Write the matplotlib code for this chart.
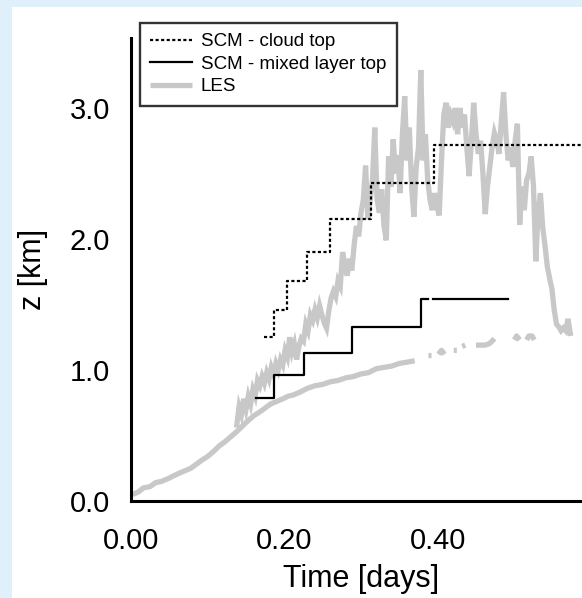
import matplotlib.pyplot as plt
import matplotlib.patches as mpatches
import numpy as np

plt.rcParams['font.family'] = ['Liberation Sans', 'DejaVu Sans']

# SCM - cloud top (step levels, km)
scm_ct_t = [0.173, 0.186, 0.204, 0.229, 0.259, 0.313, 0.395, 0.60]
scm_ct_z = [1.25, 1.46, 1.68, 1.90, 2.15, 2.43, 2.72, 2.72]

# SCM - mixed layer top (small gap near 0.39)
scm_ml_t = [0.163, 0.186, 0.225, 0.288, 0.378, 0.387, 0.394, 0.492]
scm_ml_z = [0.79, 0.96, 1.13, 1.33, 1.54, np.nan, 1.54, 1.54]

# LES - lower (mixed layer) curve, gaps late in the run
les_ml_t = [0.002, 0.010, 0.016, 0.025, 0.032, 0.040, 0.048, 0.055, 0.062, 0.070,
            0.078, 0.085, 0.092, 0.100, 0.108, 0.115, 0.122, 0.130, 0.138, 0.145,
            0.152, 0.160, 0.168, 0.175, 0.182, 0.190, 0.198, 0.205, 0.212, 0.220,
            0.230, 0.240, 0.250, 0.260, 0.270, 0.280, 0.290, 0.300, 0.310, 0.320,
            0.330, 0.340, 0.350, 0.360, 0.370, 0.378,
            0.388, 0.392, 0.397, 0.401, 0.405, 0.409, 0.413,
            0.421, 0.425, 0.428, 0.432, 0.436, 0.440,
            0.450, 0.456, 0.462, 0.467, 0.471, 0.474, 0.480,
            0.500, 0.503, 0.507, 0.511,
            0.516, 0.519, 0.523, 0.526]
les_ml_z = [0.05, 0.07, 0.10, 0.11, 0.14, 0.15, 0.17, 0.19, 0.21, 0.23,
            0.25, 0.28, 0.31, 0.34, 0.38, 0.42, 0.45, 0.49, 0.53, 0.57,
            0.61, 0.65, 0.68, 0.71, 0.74, 0.76, 0.78, 0.80, 0.81, 0.83,
            0.86, 0.88, 0.89, 0.91, 0.92, 0.94, 0.95, 0.97, 0.98, 1.01,
            1.02, 1.03, 1.05, 1.06, 1.07, np.nan,
            1.11, 1.11, np.nan, 1.12, 1.15, 1.12, np.nan,
            1.15, 1.15, np.nan, 1.18, 1.19, np.nan,
            1.19, 1.19, 1.19, 1.20, 1.22, 1.24, np.nan,
            1.23, 1.26, 1.23, np.nan,
            1.23, 1.26, 1.26, 1.23]

# LES - upper (cloud top) curve, sampled every 0.003 days from 0.138
les_ct_t = np.arange(0.138, 0.5745, 0.003)
les_ct_z = [0.58, 0.72, 0.66, 0.78, 0.70, 0.80, 0.74, 0.85, 0.80, 0.92,
            0.88, 0.95, 0.90, 0.98, 0.93, 1.02, 0.97, 1.05, 1.00, 1.08,
            1.04, 1.15, 1.10, 1.25, 1.14, 1.20, 1.08, 1.18, 1.24, 1.22,
            1.35, 1.30, 1.42, 1.38, 1.46, 1.40, 1.49, 1.42, 1.36, 1.32,
            1.45, 1.55, 1.60, 1.56, 1.68, 1.64, 1.90, 1.80, 1.72, 1.85,
            1.76, 1.95, 2.10, 2.02, 2.20, 2.30, 2.56, 2.15, 2.30, 2.45,
            2.85, 2.30, 2.20, 2.38, 2.10, 1.99, 2.63, 2.40, 2.76, 2.50,
            2.64, 2.35, 2.80, 3.09, 2.60, 2.85, 2.40, 2.17, 2.55, 2.70,
            3.29, 2.60, 2.80, 2.45, 2.30, 2.22, 2.35, 2.25, 2.18, 2.60,
            2.95, 3.04, 2.85, 2.95, 2.90, 3.00, 2.80, 3.00, 2.85, 2.95,
            2.70, 2.48, 2.75, 3.04, 2.80, 2.65, 2.75, 2.50, 2.19, 2.40,
            2.55, 2.70, 2.81, 2.75, 2.65, 2.90, 3.12, 2.80, 2.60, 2.70,
            2.55, 2.75, 2.88, 2.11, 2.40, 2.22, 2.45, 2.50, 2.63, 2.40,
            1.83, 2.20, 2.35, 2.09, 1.95, 1.79, 1.70, 1.62, 1.46, 1.35,
            1.33, 1.30, 1.32, 1.30, 1.39, 1.28]
les_ct_t = les_ct_t[:len(les_ct_z)]

xticks = [0.0, 0.2, 0.4]
xticklabels = ['0.00', '0.20', '0.40']
yticks = [0.0, 1.0, 2.0, 3.0]
yticklabels = ['0.0', '1.0', '2.0', '3.0']

fig = plt.figure(figsize=(5.82, 5.98), dpi=100)
fig.patch.set_facecolor('#dff0fa')
fig.patches.append(mpatches.Rectangle((12/582, 0), 1, 591/598, transform=fig.transFigure,
                                      facecolor='white', edgecolor='none', zorder=-5))

ax = fig.add_axes([131/582, 97/598, 460/582, 463/598])
ax.set_facecolor('none')

gray = '#c8c8c8'
les1, = ax.plot(les_ml_t, les_ml_z, color=gray, lw=3.8, solid_capstyle='butt', label='LES')
ax.plot(les_ct_t, les_ct_z, color=gray, lw=3.8, solid_joinstyle='miter')
ct, = ax.step(scm_ct_t, scm_ct_z, where='post', color='black', lw=1.6,
              linestyle=(0, (1.4, 1.1)), label='SCM - cloud top')
ml, = ax.step(scm_ml_t, scm_ml_z, where='post', color='black', lw=1.6,
              label='SCM - mixed layer top')

ax.set_xlim(0, 0.6)
ax.set_ylim(0, 463/131)
ax.set_xticks(xticks)
ax.set_xticklabels(xticklabels)
ax.set_yticks(yticks)
ax.set_yticklabels(yticklabels)
ax.tick_params(axis='both', length=0, labelsize=21)
ax.tick_params(axis='x', pad=19)
ax.tick_params(axis='y', pad=15)
for s in ['top', 'right']:
    ax.spines[s].set_visible(False)
for s in ['left', 'bottom']:
    ax.spines[s].set_linewidth(2.2)

ax.set_xlabel('Time [days]', fontsize=22, labelpad=6)
ax.set_ylabel('z [km]', fontsize=22, labelpad=16)

leg = fig.legend(handles=[ct, ml, les1], loc='upper left',
                 bbox_to_anchor=(140/582, 1 - 23/598), fontsize=13.5,
                 frameon=True, fancybox=False, handlelength=2.2,
                 handletextpad=0.5, labelspacing=0.28, borderpad=0.55,
                 borderaxespad=0)
leg.get_frame().set_edgecolor('black')
leg.get_frame().set_linewidth(1.7)

fig.savefig('out.png', dpi=100, facecolor=fig.get_facecolor())
